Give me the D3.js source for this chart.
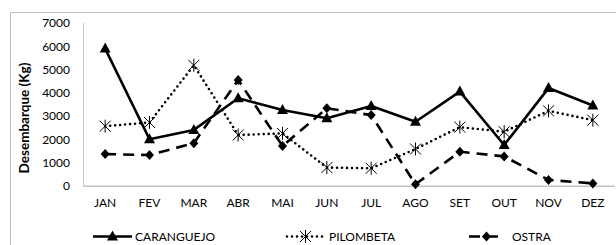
<!DOCTYPE html>
<html><head><meta charset="utf-8">
<script src="https://cdn.jsdelivr.net/npm/d3@7"></script>
<style>body{margin:0;background:#fff}svg{display:block}text{font-family:Lato,"Open Sans",sans-serif}</style>
</head><body><svg id="c" width="616" height="245"></svg>
<script>
const months = ["JAN","FEV","MAR","ABR","MAI","JUN","JUL","AGO","SET","OUT","NOV","DEZ"];
const caranguejo = [5900,2000,2400,3760,3260,2900,3430,2750,4050,1750,4200,3450];
const pilombeta = [2560,2720,5180,2180,2250,780,750,1580,2520,2320,3220,2820];
const ostra = [1360,1320,1830,4550,1710,3330,3040,60,1460,1260,250,100];
const yTicks = [0,1000,2000,3000,4000,5000,6000,7000];
const seriesNames = ["CARANGUEJO","PILOMBETA","OSTRA"];

const svg = d3.select("#c");
svg.append("path").attr("d","M10.5,250 V12.5 H620").attr("fill","none").attr("stroke","#bfbfbf").attr("stroke-width",1);

const x = d3.scaleBand().domain(months).range([83,615]);
const y = d3.scaleLinear().domain([0,7000]).range([185.7,23]);

svg.append("line").attr("x1",83.5).attr("x2",83.5).attr("y1",y(7000)).attr("y2",y(0)).attr("stroke","#c8c8c8");
svg.append("line").attr("x1",83).attr("x2",615).attr("y1",y(0)+0.5).attr("y2",y(0)+0.5).attr("stroke","#a6a6a6");

const yAxis = svg.append("g").attr("transform","translate(83,0)")
  .call(d3.axisLeft(y).tickValues(yTicks).tickSize(0).tickPadding(13).tickFormat(d3.format("d")));
yAxis.select(".domain").remove();
yAxis.selectAll("text").attr("font-size",12).attr("fill","#000").attr("font-family","Lato");

const xAxis = svg.append("g").attr("transform",`translate(0,${y(0)})`)
  .call(d3.axisBottom(x).tickSize(0).tickPadding(13));
xAxis.select(".domain").remove();
xAxis.selectAll("text").attr("font-size",12).attr("fill","#000").attr("font-family","Lato");

svg.append("text").attr("transform","translate(29,118) rotate(-90)").attr("text-anchor","middle")
  .attr("font-size",13.5).attr("font-weight","bold").text("Desembarque (Kg)");

const cx = d => x(d) + x.bandwidth()/2;
const line = d3.line().x((d,i)=>cx(months[i])).y(d=>y(d));

const styles = [
  {data:caranguejo, dash:null, cap:"butt"},
  {data:pilombeta, dash:"0,5", cap:"round"},
  {data:ostra, dash:"11,7", cap:"butt"}
];

function marker(g, type, px, py){
  if(type===0){
    g.append("path").attr("d",`M${px},${py-6} L${px+5.5},${py+4} L${px-5.5},${py+4}Z`).attr("fill","#000");
  } else if(type===1){
    const s=5.5, gg=g.append("g").attr("stroke","#000").attr("stroke-width",1);
    gg.append("line").attr("x1",px-s).attr("x2",px+s).attr("y1",py-s).attr("y2",py+s);
    gg.append("line").attr("x1",px-s).attr("x2",px+s).attr("y1",py+s).attr("y2",py-s);
    gg.append("line").attr("x1",px).attr("x2",px).attr("y1",py-s-1).attr("y2",py+s+1);
  } else {
    g.append("path").attr("d",`M${px},${py-5} L${px+4.5},${py} L${px},${py+5} L${px-4.5},${py}Z`).attr("fill","#000");
  }
}

styles.forEach((s,k)=>{
  const g = svg.append("g");
  g.append("path").datum(s.data).attr("d",line).attr("fill","none").attr("stroke","#000")
    .attr("stroke-width",2.6).attr("stroke-dasharray",s.dash).attr("stroke-linecap",s.cap).attr("stroke-linejoin","round");
  s.data.forEach((v,i)=>marker(g,k,cx(months[i]),y(v)));
});

const legY = 236.5;
const leg = [
  {x1:93,x2:132,tx:135},
  {x1:287,x2:324,tx:329},
  {x1:469,x2:504,tx:512}
];
leg.forEach((l,k)=>{
  const g = svg.append("g");
  g.append("line").attr("x1",l.x1).attr("x2",l.x2).attr("y1",legY).attr("y2",legY).attr("stroke","#000")
    .attr("stroke-width",2.6).attr("stroke-dasharray",styles[k].dash).attr("stroke-linecap",styles[k].cap);
  marker(g,k,(l.x1+l.x2)/2,legY);
  g.append("text").attr("x",l.tx).attr("y",legY+4.5).attr("font-size",12).text(seriesNames[k]);
});
</script></body></html>
